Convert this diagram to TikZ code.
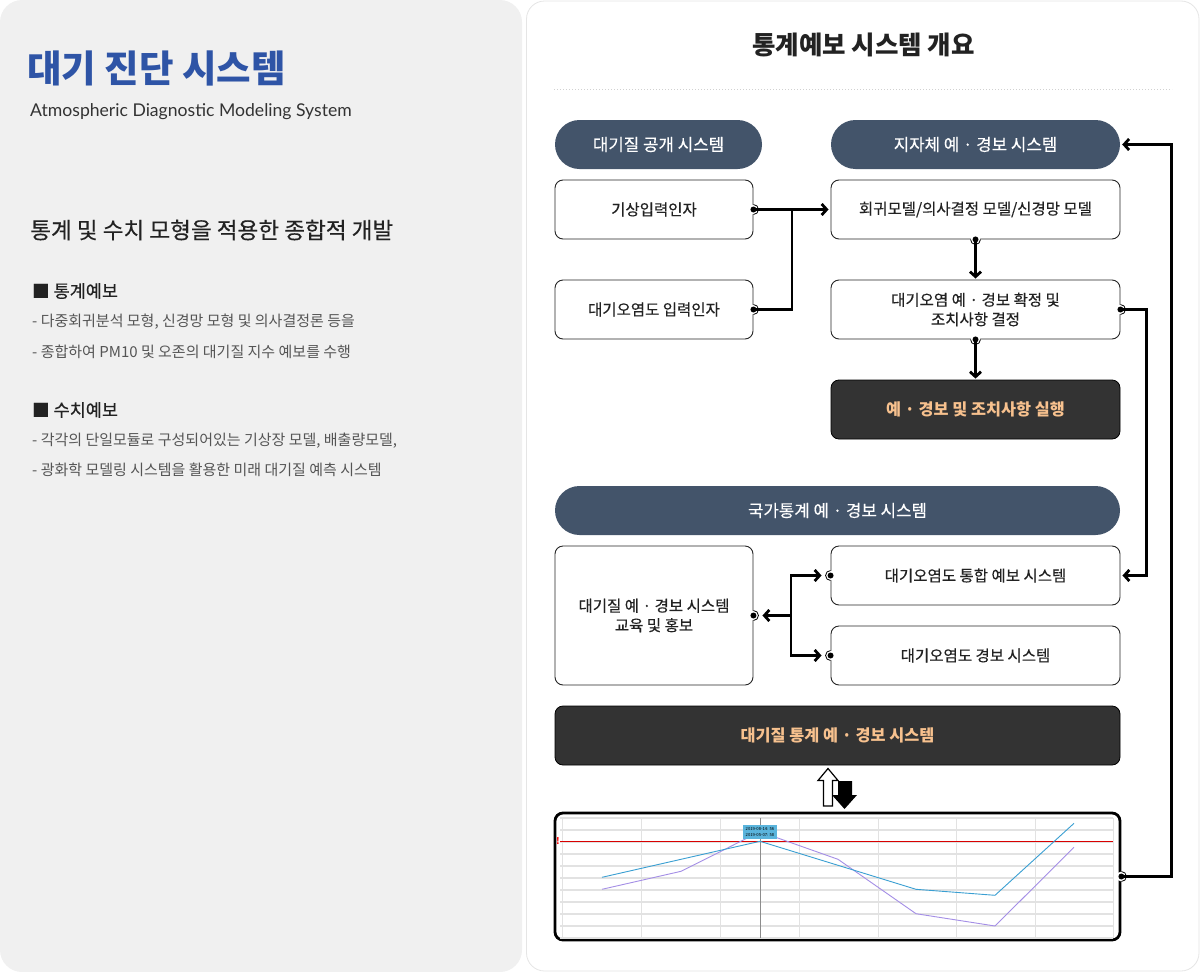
\documentclass[tikz,border=0pt]{standalone}
\usepackage{fontspec}
\setmainfont{Noto Sans CJK KR}
\newfontfamily\krmed[FakeBold=0.35]{Noto Sans CJK KR}
\newfontfamily\latf{Lato}
\usetikzlibrary{arrows.meta,calc}
\definecolor{leftbg}{HTML}{F0F0F0}
\definecolor{titleblue}{HTML}{2E54A6}
\definecolor{pillc}{HTML}{43546A}
\definecolor{darkc}{HTML}{333333}
\definecolor{peach}{HTML}{F7C18E}
\definecolor{txt}{HTML}{222222}
\definecolor{gtxt}{HTML}{555555}
\definecolor{gridc}{HTML}{E2E2E2}
\definecolor{bluel}{HTML}{3A9FD2}
\definecolor{purpl}{HTML}{A48EE6}
\definecolor{tipc}{HTML}{5AB4DC}
\newcommand\fs[2]{\fontsize{#1}{#2}\selectfont}
\newcommand\portbump[2]{\fill[white] (#1) circle[radius=5pt];
  \draw[line width=0.8pt] (#1) ++(#2-90:5pt) arc[start angle=#2-90, delta angle=180, radius=5pt];}
\newcommand\portdot[1]{\fill (#1) circle[radius=3pt];}
\tikzset{
  box/.style={draw=black!85, line width=0.9pt, rounded corners=8pt, fill=white, text=txt,
    font=\krmed\fs{15.5}{19.5}, align=center, inner sep=0pt},
  pillbox/.style={fill=pillc, rounded corners=24.5pt, text=white, font=\krmed\fs{16.8}{20},
    inner sep=0pt, minimum height=49pt},
  darkb/.style={fill=darkc, draw=black, line width=0.8pt, rounded corners=8pt, text=peach,
    font=\bfseries\fs{16.3}{20}, inner sep=0pt, minimum height=59pt},
  conn/.style={line width=2.8pt, -{Straight Barb[length=5pt,width=11pt]}},
  wire/.style={line width=2.8pt},
  lefttxt/.style={anchor=west, inner sep=0pt},
}
\begin{document}
\begin{tikzpicture}[x=1pt,y=-1pt]
\useasboundingbox (0,0) rectangle (1200,972);
% panels
\fill[leftbg, rounded corners=22pt] (0,0) rectangle (522,972);
\draw[draw=black!10, fill=white, rounded corners=18pt, line width=0.8pt] (526.5,1) rectangle (1199,971);

% left texts
\node[lefttxt, text=titleblue, font=\bfseries\fs{37.5}{42}] (ttl) at (27,68) {대기 진단 시스템};
\node[lefttxt, text=black!80, font=\latf\fs{17.6}{21}] (sub) at (30,112) {Atmospheric Diagnostic Modeling System};
\node[lefttxt, text=txt, font=\krmed\fs{22.6}{26}] (h1) at (30,230) {통계 및 수치 모형을 적용한 종합적 개발};
\node[lefttxt, text=txt, font=\krmed\fs{17.5}{20}] (s1) at (32,291) {■ 통계예보};
\node[lefttxt, text=gtxt, font=\fs{15}{18}] (l1) at (32,322) {- 다중회귀분석 모형, 신경망 모형 및 의사결정론 등을};
\node[lefttxt, text=gtxt, font=\fs{15}{18}] (l2) at (32,352) {- 종합하여 PM10 및 오존의 대기질 지수 예보를 수행};
\node[lefttxt, text=txt, font=\krmed\fs{17.5}{20}] (s2) at (32,410) {■ 수치예보};
\node[lefttxt, text=gtxt, font=\fs{15}{18}] (l3) at (32,441) {- 각각의 단일모듈로 구성되어있는 기상장 모델, 배출량모델,};
\node[lefttxt, text=gtxt, font=\fs{15}{18}] (l4) at (32,470) {- 광화학 모델링 시스템을 활용한 미래 대기질 예측 시스템};

% right title
\node[text=txt, font=\bfseries\fs{25.5}{29}] (rt) at (863.5,45) {통계예보 시스템 개요};
\draw[black!18, dotted, line width=1pt] (554,89) -- (1172,89);

% nodes
\node[pillbox, minimum width=207pt] (p1) at (658.5,144.5) {대기질 공개 시스템};
\node[pillbox, minimum width=289pt] (p2) at (975.5,144.5) {지자체 예 · 경보 시스템};
\node[box, minimum width=198pt, minimum height=59pt] (gi) at (654,209.5) {기상입력인자};
\node[box, minimum width=289pt, minimum height=59pt] (hoe) at (975.5,209.5) {회귀모델/의사결정 모델/신경망 모델};
\node[box, minimum width=198pt, minimum height=59pt] (dae) at (654,309.5) {대기오염도 입력인자};
\node[box, minimum width=289pt, minimum height=59pt] (hwak) at (975.5,309.5) {대기오염 예 · 경보 확정 및\\조치사항 결정};
\node[darkb, minimum width=289pt] (sil) at (975.5,409.5) {예 · 경보 및 조치사항 실행};
\node[pillbox, minimum width=565pt] (p3) at (837.5,510.5) {국가통계 예 · 경보 시스템};
\node[box, minimum width=198pt, minimum height=139pt] (edu) at (654,615.5) {대기질 예 · 경보 시스템\\교육 및 홍보};
\node[box, minimum width=289pt, minimum height=59pt] (tong) at (975.5,575.5) {대기오염도 통합 예보 시스템};
\node[box, minimum width=289pt, minimum height=59pt] (gyeong) at (975.5,655.5) {대기오염도 경보 시스템};
\node[darkb, minimum width=565pt] (dk2) at (837.5,735.5) {대기질 통계 예 · 경보 시스템};
\node[draw=black, line width=2.8pt, rounded corners=8pt, fill=white, minimum width=565pt, minimum height=127pt, inner sep=0pt] (chart) at (837.5,876.5) {};

% chart contents
\foreach \yy in {818,830,842,854,866,878,890,902,914,926,938}
  \draw[gridc, line width=1.3pt] (560,\yy) -- (1113,\yy);
\foreach \xx in {562,641,720,799,878,956,1035,1113}
  \draw[gridc, line width=0.9pt] (\xx,818) -- (\xx,938);
\draw[black!45, line width=0.6pt] (760,818) -- (760,938);
\draw[red!85!black, line width=1.2pt] (560,841.3) -- (1113,841.3);
\node[text=red, font=\bfseries\fs{9}{10}, inner sep=0pt] (ex) at (558,841.3) {!};
\draw[purpl, line width=0.9pt] (602,889.3) -- (681,871.3) -- (760,831.7) -- (838,859.3) -- (916,913.7) -- (995,926) -- (1074,847.3);
\draw[bluel, line width=0.9pt] (602,877.3) -- (681,859.3) -- (760,841.3) -- (838,865.3) -- (916,889.3) -- (995,895.3) -- (1074,823.3);
\node[fill=tipc, minimum width=34pt, minimum height=14pt, inner sep=0pt, font=\fs{4.2}{5.2}, align=center] (tip) at (760,832) {2019-08-14: 56\\2019-05-07: 58};

% up/down icon
\draw[fill=white, line width=1.2pt, line join=miter] (828,768.5) -- (838,780.5) -- (832.5,780.5) -- (832.5,806) -- (823.5,806) -- (823.5,780.5) -- (818,780.5) -- cycle;
\fill[black] (838,781) -- (852,781) -- (852,795) -- (857,795) -- (844.5,809) -- (832,795) -- (838,795) -- cycle;

% port bumps
\portbump{gi.east}{0}
\portbump{dae.east}{0}
\portbump{hoe.south}{-90}
\portbump{hwak.south}{-90}
\portbump{hwak.east}{0}
\portbump{chart.east}{0}
\portbump{edu.east}{0}
\portbump{tong.west}{180}
\portbump{gyeong.west}{180}

% connectors
\coordinate (j1) at (792,209.5);
\coordinate (j2) at (791,615.5);
\draw[conn, shorten >=2pt] (gi.east) -- (hoe.west);
\draw[wire] (dae.east) -| (j1);
\draw[conn, shorten >=1pt] (hoe.south) -- (hwak.north);
\draw[conn, shorten >=1pt] (hwak.south) -- (sil.north);
\draw[conn, shorten >=2pt] (hwak.east) -- ++(26pt,0) |- (tong.east);
\draw[conn, shorten >=2pt] (chart.east) -- ++(50pt,0) |- (p2.east);
\draw[conn, shorten >=9pt] (j2) -- (edu.east);
\draw[conn, shorten >=9pt] (j2) |- (tong.west);
\draw[conn, shorten >=9pt] (j2) |- (gyeong.west);

% port dots
\portdot{gi.east}
\portdot{dae.east}
\portdot{hoe.south}
\portdot{hwak.south}
\portdot{hwak.east}
\portdot{chart.east}
\portdot{edu.east}
\portdot{tong.west}
\portdot{gyeong.west}
\end{tikzpicture}
\end{document}
